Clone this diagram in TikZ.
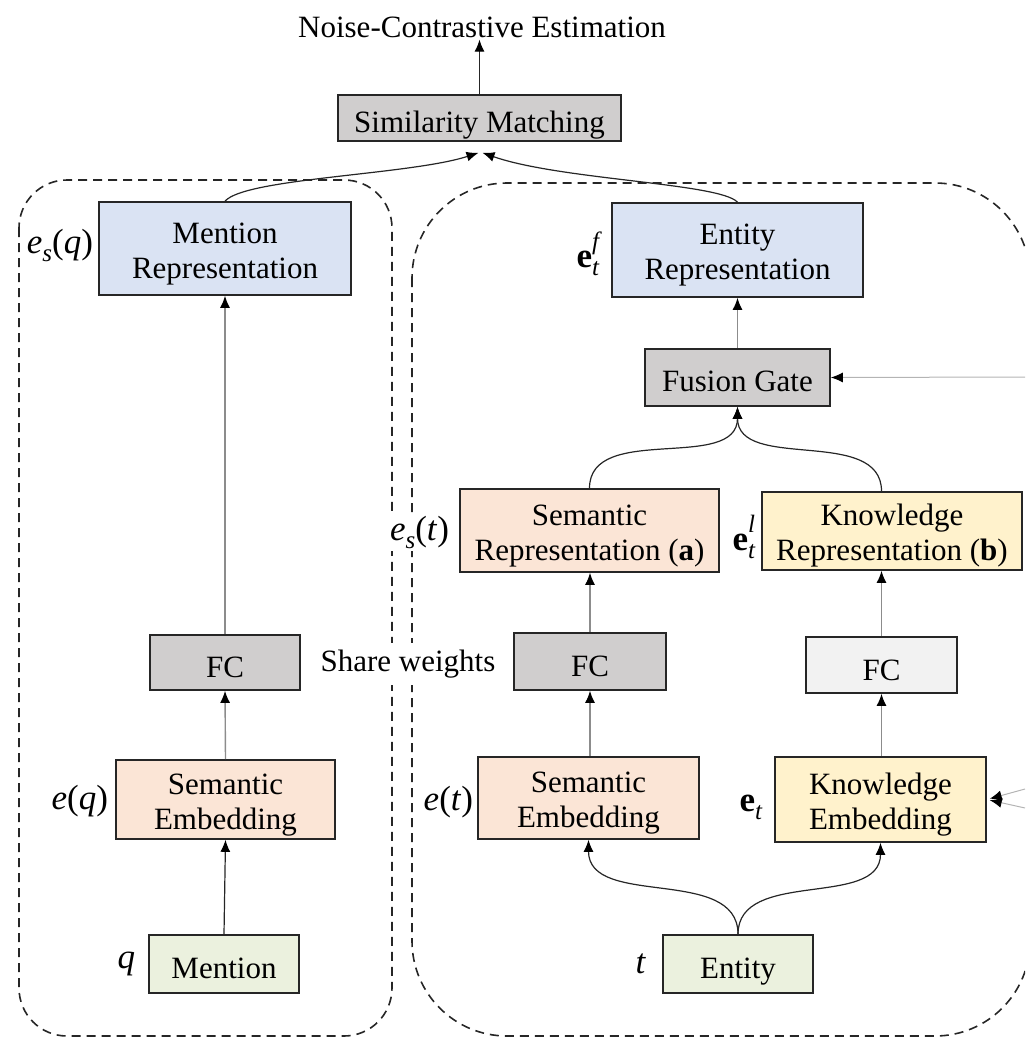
\documentclass[tikz,border=0pt]{standalone}
\usepackage{fontspec}
\setmainfont{Liberation Serif}
\usetikzlibrary{arrows.meta,calc}

\definecolor{repblue}{HTML}{DAE3F3}
\definecolor{sempeach}{HTML}{FBE5D6}
\definecolor{knowyellow}{HTML}{FFF2CC}
\definecolor{inputgreen}{HTML}{EBF1DE}
\definecolor{opgray}{HTML}{D0CECE}
\definecolor{fclight}{HTML}{F2F2F2}
\definecolor{edgegray}{HTML}{8C8C8C}
\definecolor{feedgray}{HTML}{B4B4B4}

% lowered subscript and raised superscript for the variable labels
\newcommand\lsub[1]{\raisebox{-8pt}{\fontsize{25}{25}\selectfont\itshape #1}}
\newcommand\lsup[1]{\raisebox{18pt}{\fontsize{25}{25}\selectfont\itshape #1}}
% box caption: centred lines, set a little below the box middle
\newcommand\boxtext[2][5pt]{\raisebox{-#1}[\height][\depth]{\begin{tabular}{@{}c@{}}#2\end{tabular}}}

\begin{document}
\begin{tikzpicture}[x=1pt,y=-1pt,
  every node/.style={font=\fontsize{31}{35}\selectfont},
  blk/.style={draw=black!85, line width=1.6pt, inner sep=0pt},
  varlabel/.style={font=\fontsize{35}{40}\selectfont, anchor=east, inner sep=0pt},
  tipped/.style={-{Latex[length=12pt,width=10pt,color=black]}},
  darkconn/.style={tipped, draw=black!85, line width=1.2pt},
  grayconn/.style={tipped, draw=edgegray, line width=1.4pt},
  feedconn/.style={tipped, draw=feedgray, line width=1pt},
  group/.style={draw=black!85, line width=1.6pt, dash pattern=on 9pt off 6pt}
]
\clip (0,0) rectangle (1025,1038);

% dashed groups: mention side and entity side
\draw[group, rounded corners=48pt] (19,180) rectangle (392,1036);
\draw[group, rounded corners=95pt] (412,183) rectangle (1030,1036);

% top of the model
\node[inner sep=2pt] (nce) at (482,27) {Noise-Contrastive Estimation};
\node[blk, fill=opgray, minimum width=283pt, minimum height=46pt] (sim) at (479.5,118) {\boxtext[8pt]{Similarity Matching}};

% mention tower
\node[blk, fill=repblue, minimum width=252pt, minimum height=93pt] (mrep) at (225,248.5) {\boxtext{Mention\\Representation}};
\node[blk, fill=opgray, minimum width=150pt, minimum height=55pt] (fcl) at (225,662.5) {\boxtext[8pt]{FC}};
\node[blk, fill=sempeach, minimum width=219pt, minimum height=79pt] (seml) at (225.5,799.5) {\boxtext{Semantic\\Embedding}};
\node[blk, fill=inputgreen, minimum width=150pt, minimum height=58pt] (mention) at (224,964) {\boxtext[7pt]{Mention}};

% entity tower
\node[blk, fill=repblue, minimum width=251pt, minimum height=94pt] (erep) at (737.5,250) {\boxtext{Entity\\Representation}};
\node[blk, fill=opgray, minimum width=185pt, minimum height=57pt] (fuse) at (737.5,377.5) {\boxtext[7pt]{Fusion Gate}};
\node[blk, fill=sempeach, minimum width=259pt, minimum height=83pt] (srep) at (589.5,530.5) {\boxtext{Semantic\\Representation (\textbf{a})}};
\node[blk, fill=knowyellow, minimum width=260pt, minimum height=78pt] (krep) at (892,531) {\boxtext{Knowledge\\Representation (\textbf{b})}};
\node[blk, fill=opgray, minimum width=152pt, minimum height=57pt] (fcm) at (590,661.5) {\boxtext[8pt]{FC}};
\node[blk, fill=fclight, minimum width=151pt, minimum height=56pt] (fcr) at (881.5,665) {\boxtext[8pt]{FC}};
\node[blk, fill=sempeach, minimum width=221pt, minimum height=82pt] (semr) at (588.5,798) {\boxtext{Semantic\\Embedding}};
\node[blk, fill=knowyellow, minimum width=211pt, minimum height=85pt] (kemb) at (880.5,799.5) {\boxtext{Knowledge\\Embedding}};
\node[blk, fill=inputgreen, minimum width=150pt, minimum height=58pt] (entity) at (738,964) {\boxtext[7pt]{Entity}};

\node[fill=white, inner xsep=3pt, inner ysep=7pt] (share) at (408,664) {Share weights};

% variable labels
\node[varlabel] (lmrep) at ($(mrep.west)+(-5,-3)$) {\textit{e}\lsub{s}(\textit{q})};
\node[varlabel] (lerep) at ($(erep.west)+(-12,4)$) {\textbf{e}\rlap{\lsub{t}}\lsup{f}};
\node[varlabel, fill=white, inner sep=2pt] (lsrep) at ($(srep.west)+(-8,2)$) {\textit{e}\lsub{s}(\textit{t})};
\node[varlabel] (lkrep) at ($(krep.west)+(-6,6)$) {\textbf{e}\rlap{\lsub{t}}\lsup{l}};
\node[varlabel] (lseml) at ($(seml.west)+(-7,2)$) {\textit{e}(\textit{q})};
\node[varlabel] (lsemr) at ($(semr.west)+(-4,4)$) {\textit{e}(\textit{t})};
\node[varlabel] (lkemb) at ($(kemb.west)+(-12,8)$) {\textbf{e}\lsub{t}};
\node[varlabel] (lmention) at ($(mention.west)+(-13,0)$) {\textit{q}};
\node[varlabel] (lentity) at ($(entity.west)+(-16,0)$) {\textit{t}};

% inputs entering from outside the frame
\coordinate (gatein) at (1025,377);
\coordinate (kin1) at (1025,789);
\coordinate (kin2) at (1025,808);

% connectors
\draw[darkconn] (sim.north) -- (sim.north |- nce.south);
\draw[darkconn] (mrep.north) .. controls (245,178) and (410,175) .. ($(sim.south)+(-1,11)$);
\draw[darkconn] (erep.north) .. controls (720,183) and (560,180) .. ($(sim.south)+(3,11)$);

\draw[darkconn] (mention.north) -- (seml.south);
\draw[grayconn] (seml.north) -- (fcl.south);
\draw[grayconn] (fcl.north) -- (mrep.south);

\draw[grayconn] (fuse.north) -- (erep.south);
\draw[darkconn] (srep.north) to[out=90,in=-90] (fuse.south);
\draw[darkconn] (krep.north -| fcr.north) to[out=90,in=-90] (fuse.south);
\draw[grayconn] (fcm.north) -- (srep.south -| fcm.north);
\draw[grayconn] (fcr.north) -- (krep.south -| fcr.north);
\draw[grayconn] (semr.north -| fcm.north) -- (fcm.south);
\draw[grayconn] (kemb.north -| fcr.north) -- (fcr.south);
\draw[darkconn] (entity.north) to[out=90,in=-90] (semr.south);
\draw[darkconn] (entity.north) to[out=90,in=-90] (kemb.south);

\draw[feedconn] (gatein) -- (fuse.east);
\draw[feedconn, shorten >=3pt] (kin1) -- (kemb.east);
\draw[feedconn, shorten >=3pt] (kin2) -- (kemb.east);
\end{tikzpicture}
\end{document}
